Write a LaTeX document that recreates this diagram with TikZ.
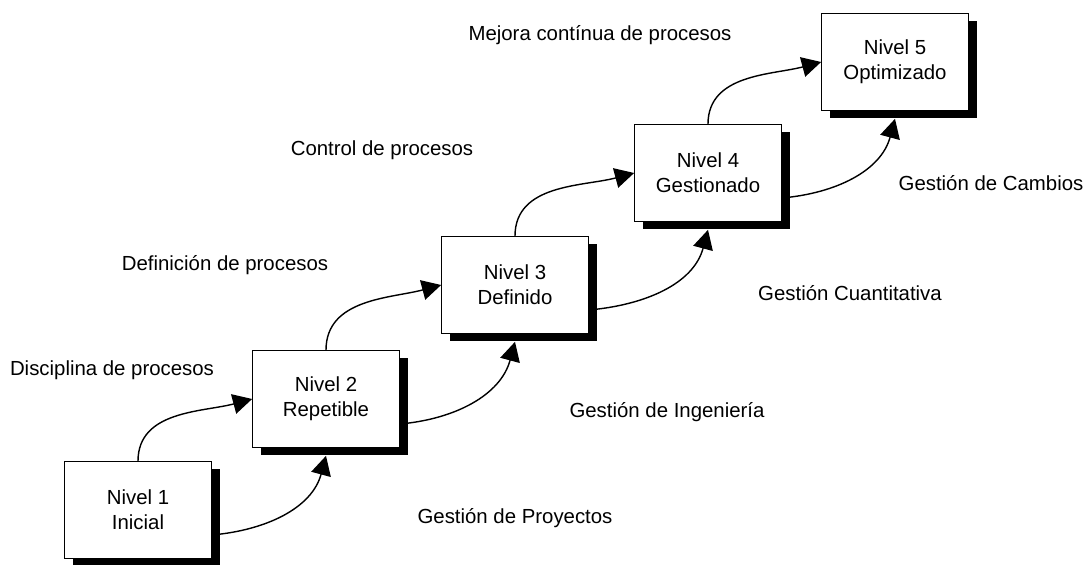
\documentclass[tikz,border=0pt]{standalone}
\usepackage{fontspec}
\setmainfont{Liberation Sans}
\usetikzlibrary{arrows.meta,shadows}
\begin{document}
\begin{tikzpicture}
[nivelbox/.style={shape=rectangle,draw,line width=0.5pt,fill=white,
   minimum width=3.675cm,minimum height=2.425cm,align=center,
   font=\fontsize{14.5}{17.5}\selectfont,
   drop shadow={fill=black,opacity=1,shadow xshift=0.2cm,shadow yshift=-0.2cm}},%
  etiqueta/.style={font=\fontsize{14.5}{17.5}\selectfont,inner sep=0pt},%
  flecha/.style={-{Triangle[length=0.48cm,width=0.5cm]},line width=1pt}]
\useasboundingbox (0,0) rectangle (27.15,14.125);
%%% niveles de madurez
% nodes or boxes
\node (n1) at (3.45,1.375) [nivelbox] {Nivel 1\\Inicial};
\node (n2) at (8.15,4.15) [nivelbox] {Nivel 2\\Repetible};
\node (n3) at (12.875,7.0) [nivelbox] {Nivel 3\\Definido};
\node (n4) at (17.7,9.8) [nivelbox] {Nivel 4\\Gestionado};
\node (n5) at (22.375,12.575) [nivelbox] {Nivel 5\\Optimizado};
% labels
\node (l1) at (2.8,4.875) [etiqueta] {Disciplina de procesos};
\node (l2) at (5.625,7.5) [etiqueta] {Definición de procesos};
\node (l3) at (9.55,10.375) [etiqueta] {Control de procesos};
\node (l4) at (15.0,13.25) [etiqueta] {Mejora contínua de procesos};
\node (r1) at (12.875,1.175) [etiqueta] {Gestión de Proyectos};
\node (r2) at (16.675,3.825) [etiqueta] {Gestión de Ingeniería};
\node (r3) at (21.25,6.8) [etiqueta] {Gestión Cuantitativa};
\node (r4) at (24.775,9.55) [etiqueta] {Gestión de Cambios};
% edges or arrows
\path
(n1.north) edge[flecha,out=90,in=195] (n2.west)
(n2.north) edge[flecha,out=90,in=195] (n3.west)
(n3.north) edge[flecha,out=90,in=195] (n4.west)
(n4.north) edge[flecha,out=90,in=195] (n5.west)
([yshift=-0.625cm]n1.east) edge[flecha,out=5,in=-105] ([yshift=-0.2cm]n2.south)
([yshift=-0.625cm]n2.east) edge[flecha,out=5,in=-105] ([yshift=-0.2cm]n3.south)
([yshift=-0.625cm]n3.east) edge[flecha,out=5,in=-105] ([yshift=-0.2cm]n4.south)
([yshift=-0.625cm]n4.east) edge[flecha,out=5,in=-105] ([yshift=-0.2cm]n5.south);
\end{tikzpicture}
\end{document}
